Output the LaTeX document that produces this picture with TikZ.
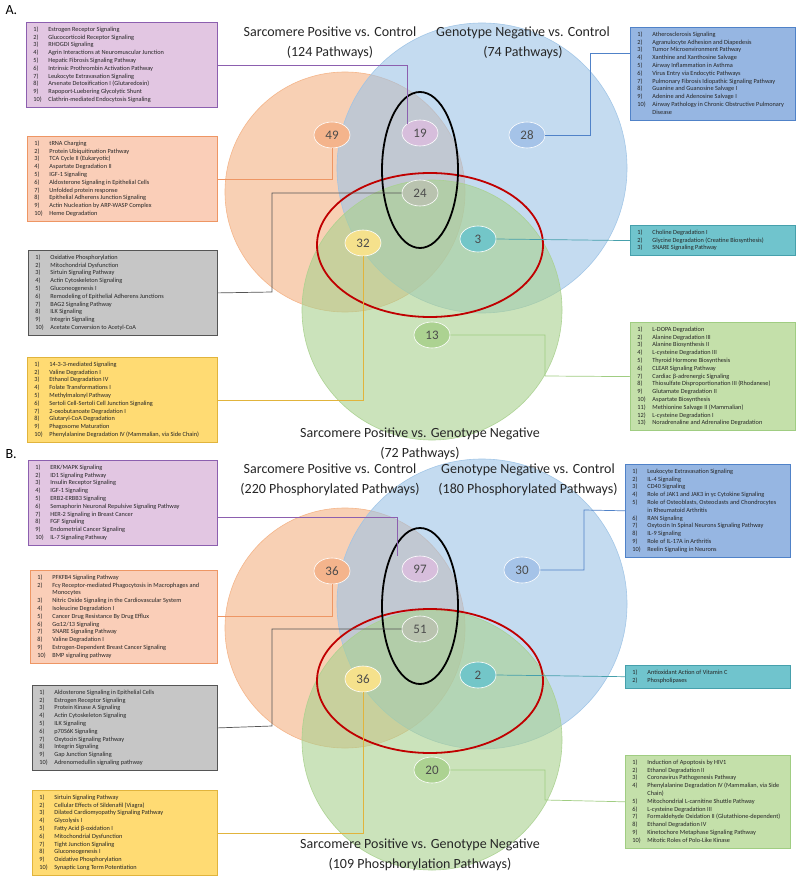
\documentclass[tikz,border=0pt]{standalone}
\usepackage{fontspec}
\setmainfont{Carlito}
\usepackage{array}
\usetikzlibrary{shapes.geometric}
\definecolor{pfill}{RGB}{226,198,226}\definecolor{pline}{RGB}{140,95,175}
\definecolor{ofill}{RGB}{250,206,184}\definecolor{oline}{RGB}{238,150,100}
\definecolor{gfill}{RGB}{198,198,198}\definecolor{gline}{RGB}{85,85,85}
\definecolor{yfill}{RGB}{255,219,115}\definecolor{yline}{RGB}{225,180,60}
\definecolor{bfill}{RGB}{150,182,226}\definecolor{bline}{RGB}{80,130,200}
\definecolor{cfill}{RGB}{112,196,205}\definecolor{cline}{RGB}{70,160,172}
\definecolor{grfill}{RGB}{196,224,170}\definecolor{grline}{RGB}{160,205,130}
\definecolor{corange}{RGB}{244,177,131}\definecolor{cblue}{RGB}{157,195,230}\definecolor{cgreen}{RGB}{169,209,142}
\definecolor{e49}{RGB}{244,180,140}\definecolor{e19}{RGB}{215,190,220}\definecolor{e28}{RGB}{165,195,232}
\definecolor{e24}{RGB}{185,195,175}\definecolor{e32}{RGB}{245,225,140}\definecolor{e3}{RGB}{115,198,200}
\definecolor{e13}{RGB}{172,210,145}\definecolor{redring}{RGB}{192,0,0}
\newcommand{\bxl}[2]{\begin{tabular}{@{}>{\raggedright\arraybackslash}p{15pt}@{}>{\raggedright\arraybackslash}p{#1}@{}}#2\end{tabular}}
\tikzset{
  lbox/.style={draw, line width=0.8pt, anchor=north west, inner xsep=7pt, inner ysep=3.5pt,
    font=\fontsize{6.3}{7.8}\selectfont, text=black!85},
  numell/.style={ellipse, draw=white, line width=0.6pt, minimum width=36pt, minimum height=26pt,
    inner sep=0pt, font=\fontsize{13}{13}\selectfont, text=black!70},
  ttl/.style={align=center, font=\fontsize{14}{19.5}\selectfont, text=black!85},
  conn/.style={line width=0.7pt},
  vcirc/.style={fill opacity=0.6, draw opacity=0.9, line width=0.6pt},
  ring/.style={line width=1.8pt}
}
\begin{document}
\begin{tikzpicture}[x=1pt,y=-1pt]
\useasboundingbox (0,0) rectangle (799,877);
\fill[white] (0,0) rectangle (799,877);
% ================= Panel A =================
\node[font=\fontsize{14}{14}\selectfont, anchor=north west] (labA) at (2,2) {A.};
\coordinate (coA) at (345,192);
\coordinate (cbA) at (482,168);
\coordinate (cgA) at (432,310);
\fill[corange, vcirc, draw=corange] (coA) circle [radius=120pt];
\fill[cblue, vcirc, draw=cblue] (cbA) circle [radius=145pt];
\fill[cgreen, vcirc, draw=cgreen] (cgA) circle [radius=130pt];
\coordinate (ebA) at (420,170);
\coordinate (erA) at (430,245);
\draw[ring, redring] (erA) ellipse [x radius=113pt, y radius=72pt];
\draw[ring, black] (ebA) ellipse [x radius=38pt, y radius=78pt];

\node[ttl] (tA1) at (330,43) {Sarcomere Positive vs. Control\\(124 Pathways)};
\node[ttl] (tA2) at (523,43) {Genotype Negative vs. Control\\(74 Pathways)};
\node[ttl] (tA3) at (420,444) {Sarcomere Positive vs. Genotype Negative\\(72 Pathways)};

\node[lbox, fill=pfill, draw=pline] (pA) at (26,22) {\bxl{162pt}{
1) & Estrogen Receptor Signaling\\
2) & Glucocorticoid Receptor Signaling\\
3) & RHOGDI Signaling\\
4) & Agrin Interactions at Neuromuscular Junction\\
5) & Hepatic Fibrosis Signaling Pathway\\
6) & Intrinsic Prothrombin Activation Pathway\\
7) & Leukocyte Extravasation Signaling\\
8) & Arsenate Detoxification I (Glutaredoxin)\\
9) & Rapoport-Luebering Glycolytic Shunt\\
10) & Clathrin-mediated Endocytosis Signaling}};
\node[lbox, fill=ofill, draw=oline] (oA) at (27,136) {\bxl{161pt}{
1) & tRNA Charging\\
2) & Protein Ubiquitination Pathway\\
3) & TCA Cycle II (Eukaryotic)\\
4) & Aspartate Degradation II\\
5) & IGF-1 Signaling\\
6) & Aldosterone Signaling in Epithelial Cells\\
7) & Unfolded protein response\\
8) & Epithelial Adherens Junction Signaling\\
9) & Actin Nucleation by ARP-WASP Complex\\
10) & Heme Degradation}};
\node[lbox, fill=gfill, draw=gline] (gA) at (28,250) {\bxl{160pt}{
1) & Oxidative Phosphorylation\\
2) & Mitochondrial Dysfunction\\
3) & Sirtuin Signaling Pathway\\
4) & Actin Cytoskeleton Signaling\\
5) & Gluconeogenesis I\\
6) & Remodeling of Epithelial Adherens Junctions\\
7) & BAG2 Signaling Pathway\\
8) & ILK Signaling\\
9) & Integrin Signaling\\
10) & Acetate Conversion to Acetyl-CoA}};
\node[lbox, fill=yfill, draw=yline] (yA) at (27,357) {\bxl{161pt}{
1) & 14-3-3-mediated Signaling\\
2) & Valine Degradation I\\
3) & Ethanol Degradation IV\\
4) & Folate Transformations I\\
5) & Methylmalonyl Pathway\\
6) & Sertoli Cell-Sertoli Cell Junction Signaling\\
7) & 2-oxobutanoate Degradation I\\
8) & Glutaryl-CoA Degradation\\
9) & Phagosome Maturation\\
10) & Phenylalanine Degradation IV (Mammalian, via Side Chain)}};
\node[lbox, fill=bfill, draw=bline] (bA) at (630,27) {\bxl{136pt}{
1) & Atherosclerosis Signaling\\
2) & Agranulocyte Adhesion and Diapedesis\\
3) & Tumor Microenvironment Pathway\\
4) & Xanthine and Xanthosine Salvage\\
5) & Airway Inflammation in Asthma\\
6) & Virus Entry via Endocytic Pathways\\
7) & Pulmonary Fibrosis Idiopathic Signaling Pathway\\
8) & Guanine and Guanosine Salvage I\\
9) & Adenine and Adenosine Salvage I\\
10) & Airway Pathology in Chronic Obstructive Pulmonary\\
 & Disease}};
\node[lbox, fill=cfill, draw=cline] (cA) at (630,225) {\bxl{136pt}{
1) & Choline Degradation I\\
2) & Glycine Degradation (Creatine Biosynthesis)\\
3) & SNARE Signaling Pathway}};
\node[lbox, fill=grfill, draw=grline] (grA) at (630,322) {\bxl{136pt}{
1) & L-DOPA Degradation\\
2) & Alanine Degradation III\\
3) & Alanine Biosynthesis II\\
4) & L-cysteine Degradation III\\
5) & Thyroid Hormone Biosynthesis\\
6) & CLEAR Signaling Pathway\\
7) & Cardiac β-adrenergic Signaling\\
8) & Thiosulfate Disproportionation III (Rhodanese)\\
9) & Glutamate Degradation II\\
10) & Aspartate Biosynthesis\\
11) & Methionine Salvage II (Mammalian)\\
12) & L-cysteine Degradation I\\
13) & Noradrenaline and Adrenaline Degradation}};

\node[numell, fill=e49] (n49) at (332,135) {49};
\node[numell, fill=e19] (n19) at (420,133) {19};
\node[numell, fill=e28] (n28) at (527,135) {28};
\node[numell, fill=e24] (n24) at (420,193) {24};
\node[numell, fill=e32] (n32) at (363,243) {32};
\node[numell, fill=e3] (n3) at (478,239) {3};
\node[numell, fill=e13] (n13) at (432,335) {13};

\coordinate (kbA) at (590,53);
\coordinate (kgA) at (272,292);
\coordinate (kgrA) at (545,376);
\draw[conn, pline] (pA.east) -| (n19.north west);
\draw[conn, oline] (oA.east) -| (n49.south);
\draw[conn, gline] (gA.east) -- (kgA) |- (n24.west);
\draw[conn, yline] (yA.east) -| (n32.south);
\draw[conn, bline] (kbA -| bA.west) -- (kbA) |- (n28.east);
\draw[conn, cline] (cA.west) -- (n3.east);
\draw[conn, grline] (grA.west) -- (kgrA) |- (n13.east);

% ================= Panel B =================
\node[font=\fontsize{14}{14}\selectfont, anchor=north west] (labB) at (2,446) {B.};
\coordinate (coB) at (345,628);
\coordinate (cbB) at (482,604);
\coordinate (cgB) at (432,740);
\fill[corange, vcirc, draw=corange] (coB) circle [radius=120pt];
\fill[cblue, vcirc, draw=cblue] (cbB) circle [radius=145pt];
\fill[cgreen, vcirc, draw=cgreen] (cgB) circle [radius=130pt];
\coordinate (ebB) at (420,606);
\coordinate (erB) at (430,681);
\draw[ring, redring] (erB) ellipse [x radius=113pt, y radius=72pt];
\draw[ring, black] (ebB) ellipse [x radius=38pt, y radius=78pt];

\node[ttl] (tB1) at (330,480) {Sarcomere Positive vs. Control\\(220 Phosphorylated Pathways)};
\node[ttl] (tB2) at (528,480) {Genotype Negative vs. Control\\(180 Phosphorylated Pathways)};
\node[ttl] (tB3) at (420,855) {Sarcomere Positive vs. Genotype Negative\\(109 Phosphorylation Pathways)};

\node[lbox, fill=pfill, draw=pline] (pB) at (28,460) {\bxl{160pt}{
1) & ERK/MAPK Signaling\\
2) & ID1 Signaling Pathway\\
3) & Insulin Receptor Signaling\\
4) & IGF-1 Signaling\\
5) & ERB2-ERBB3 Signaling\\
6) & Semaphorin Neuronal Repulsive Signaling Pathway\\
7) & HER-2 Signaling in Breast Cancer\\
8) & FGF Signaling\\
9) & Endometrial Cancer Signaling\\
10) & IL-7 Signaling Pathway}};
\node[lbox, fill=ofill, draw=oline] (oB) at (30,570) {\bxl{158pt}{
1) & PFKFB4 Signaling Pathway\\
2) & Fcγ Receptor-mediated Phagocytosis in Macrophages and\\
 & Monocytes\\
3) & Nitric Oxide Signaling in the Cardiovascular System\\
4) & Isoleucine Degradation I\\
5) & Cancer Drug Resistance By Drug Efflux\\
6) & Gα12/13 Signaling\\
7) & SNARE Signaling Pathway\\
8) & Valine Degradation I\\
9) & Estrogen-Dependent Breast Cancer Signaling\\
10) & BMP signaling pathway}};
\node[lbox, fill=gfill, draw=gline] (gB) at (32,685) {\bxl{156pt}{
1) & Aldosterone Signaling in Epithelial Cells\\
2) & Estrogen Receptor Signaling\\
3) & Protein Kinase A Signaling\\
4) & Actin Cytoskeleton Signaling\\
5) & ILK Signaling\\
6) & p70S6K Signaling\\
7) & Oxytocin Signaling Pathway\\
8) & Integrin Signaling\\
9) & Gap Junction Signaling\\
10) & Adrenomedullin signaling pathway}};
\node[lbox, fill=yfill, draw=yline] (yB) at (32,790) {\bxl{156pt}{
1) & Sirtuin Signaling Pathway\\
2) & Cellular Effects of Sildenafil (Viagra)\\
3) & Dilated Cardiomyopathy Signaling Pathway\\
4) & Glycolysis I\\
5) & Fatty Acid β-oxidation I\\
6) & Mitochondrial Dysfunction\\
7) & Tight Junction Signaling\\
8) & Gluconeogenesis I\\
9) & Oxidative Phosphorylation\\
10) & Synaptic Long Term Potentiation}};
\node[lbox, fill=bfill, draw=bline] (bB) at (625,464) {\bxl{136pt}{
1) & Leukocyte Extravasation Signaling\\
2) & IL-4 Signaling\\
3) & CD40 Signaling\\
4) & Role of JAK1 and JAK3 in γc Cytokine Signaling\\
5) & Role of Osteoblasts, Osteoclasts and Chondrocytes\\
 & in Rheumatoid Arthritis\\
6) & RAN Signaling\\
7) & Oxytocin In Spinal Neurons Signaling Pathway\\
8) & IL-9 Signaling\\
9) & Role of IL-17A in Arthritis\\
10) & Reelin Signaling in Neurons}};
\node[lbox, fill=cfill, draw=cline] (cB) at (625,665) {\bxl{136pt}{
1) & Antioxidant Action of Vitamin C\\
2) & Phospholipases}};
\node[lbox, fill=grfill, draw=grline] (grB) at (625,755) {\bxl{136pt}{
1) & Induction of Apoptosis by HIV1\\
2) & Ethanol Degradation II\\
3) & Coronavirus Pathogenesis Pathway\\
4) & Phenylalanine Degradation IV (Mammalian, via Side\\
 & Chain)\\
5) & Mitochondrial L-carnitine Shuttle Pathway\\
6) & L-cysteine Degradation III\\
7) & Formaldehyde Oxidation II (Glutathione-dependent)\\
8) & Ethanol Degradation IV\\
9) & Kinetochore Metaphase Signaling Pathway\\
10) & Mitotic Roles of Polo-Like Kinase}};

\node[numell, fill=e49] (n36a) at (332,571) {36};
\node[numell, fill=e19] (n97) at (420,569) {97};
\node[numell, fill=e28] (n30) at (522,570) {30};
\node[numell, fill=e24] (n51) at (420,629) {51};
\node[numell, fill=e32] (n36b) at (363,679) {36};
\node[numell, fill=e3] (n2) at (478,675) {2};
\node[numell, fill=e13] (n20) at (432,770) {20};

\coordinate (kpB) at (397,517);
\coordinate (kbB) at (584,510);
\coordinate (kgB) at (272,726);
\coordinate (kgrB) at (545,800);
\draw[conn, pline] (kpB -| pB.east) -- (kpB) -- (kpB |- n97.north);
\draw[conn, oline] (oB.east) -| (n36a.south);
\draw[conn, gline] (gB.east) -- (kgB) |- (n51.west);
\draw[conn, yline] (yB.east) -| (n36b.south);
\draw[conn, bline] (bB.west) -- (kbB) |- (n30.east);
\draw[conn, cline] (cB.west) -- (n2.east);
\draw[conn, grline] (grB.west) -- (kgrB) |- (n20.east);
\end{tikzpicture}
\end{document}
